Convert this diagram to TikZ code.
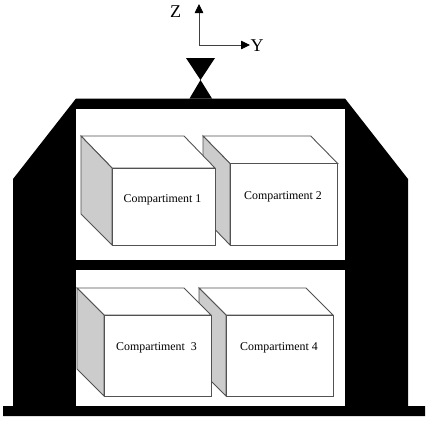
\documentclass[tikz,border=0pt]{standalone}
\usepackage{fontspec}
\setmainfont{Liberation Serif}
\usetikzlibrary{arrows.meta}
\tikzset{
  wall/.style={fill=black,draw=none},
  room/.style={fill=white,draw=none},
  boxface/.style={fill=white,draw=black!68,line width=0.9pt,line join=miter},
  boxside/.style={fill=black!20,draw=black!68,line width=0.9pt,line join=miter},
  complabel/.style={font=\fontsize{11.9}{13}\selectfont,inner sep=0pt,text=black},
  axislabel/.style={font=\fontsize{18}{20}\selectfont,inner sep=0pt,text=black},
  axis/.style={draw=black!75,line width=0.8pt,-{Triangle[length=9pt,width=8.5pt,color=black,fill=black]}},
}
\begin{document}
\begin{tikzpicture}[x=1pt,y=-1pt]
\useasboundingbox (0,0) rectangle (430,421);
% frame
\path[wall] (3,406) -- (13,406) -- (13,179) -- (76,98.5) -- (345,98.5) -- (408,179) -- (408,406)
  -- (425,406) -- (425,416) -- (3,416) -- cycle;
\path[room] (76,109) rectangle (345,260);
\path[room] (76,270) rectangle (345,406);
% valve
\path[wall] (186,58) -- (215,58) -- (200.5,80) -- (212,98.5) -- (189.5,98.5) -- (200.5,80) -- cycle;
% axes
\coordinate (origin) at (199,45);
\coordinate (ztip) at (199,4);
\coordinate (ytip) at (250,45);
\draw[axis] (origin) -- (ztip);
\draw[axis] (origin) -- (ytip);
\node[axislabel] (zlabel) at (175.5,12) {Z};
\node[axislabel] (ylabel) at (257,45.5) {Y};
% compartment 2 (behind 1)
\path[boxface] (203,136) -- (310.7,136) -- (337.7,163.5) -- (230,163.5) -- cycle;
\path[boxside] (203,136) -- (230,163.5) -- (230,245) -- (203,217) -- cycle;
\path[boxface] (230,163.5) rectangle (337.7,245);
\node[complabel] (c2) at (283,197) {Compartiment 2};
% compartment 1
\path[boxface] (81,136) -- (184,136) -- (215,168) -- (112,168) -- cycle;
\path[boxside] (81,136) -- (112,168) -- (112,245) -- (81,214) -- cycle;
\path[boxface] (112,168) rectangle (215,245);
\node[complabel] (c1) at (162.5,199.5) {Compartiment 1};
% compartment 4 (behind 3)
\path[boxface] (199,288) -- (306,288) -- (333,315) -- (226,315) -- cycle;
\path[boxside] (199,288) -- (226,315) -- (226,396) -- (199,369) -- cycle;
\path[boxface] (226,315) rectangle (333,396);
\node[complabel] (c4) at (279,347.5) {Compartiment 4};
% compartment 3
\path[boxface] (77,288) -- (184,288) -- (211,315) -- (104,315) -- cycle;
\path[boxside] (77,288) -- (104,315) -- (104,396) -- (77,369) -- cycle;
\path[boxface] (104,315) rectangle (211,396);
\node[complabel] (c3) at (156.5,347.5) {Compartiment\ \ 3};
\end{tikzpicture}
\end{document}
